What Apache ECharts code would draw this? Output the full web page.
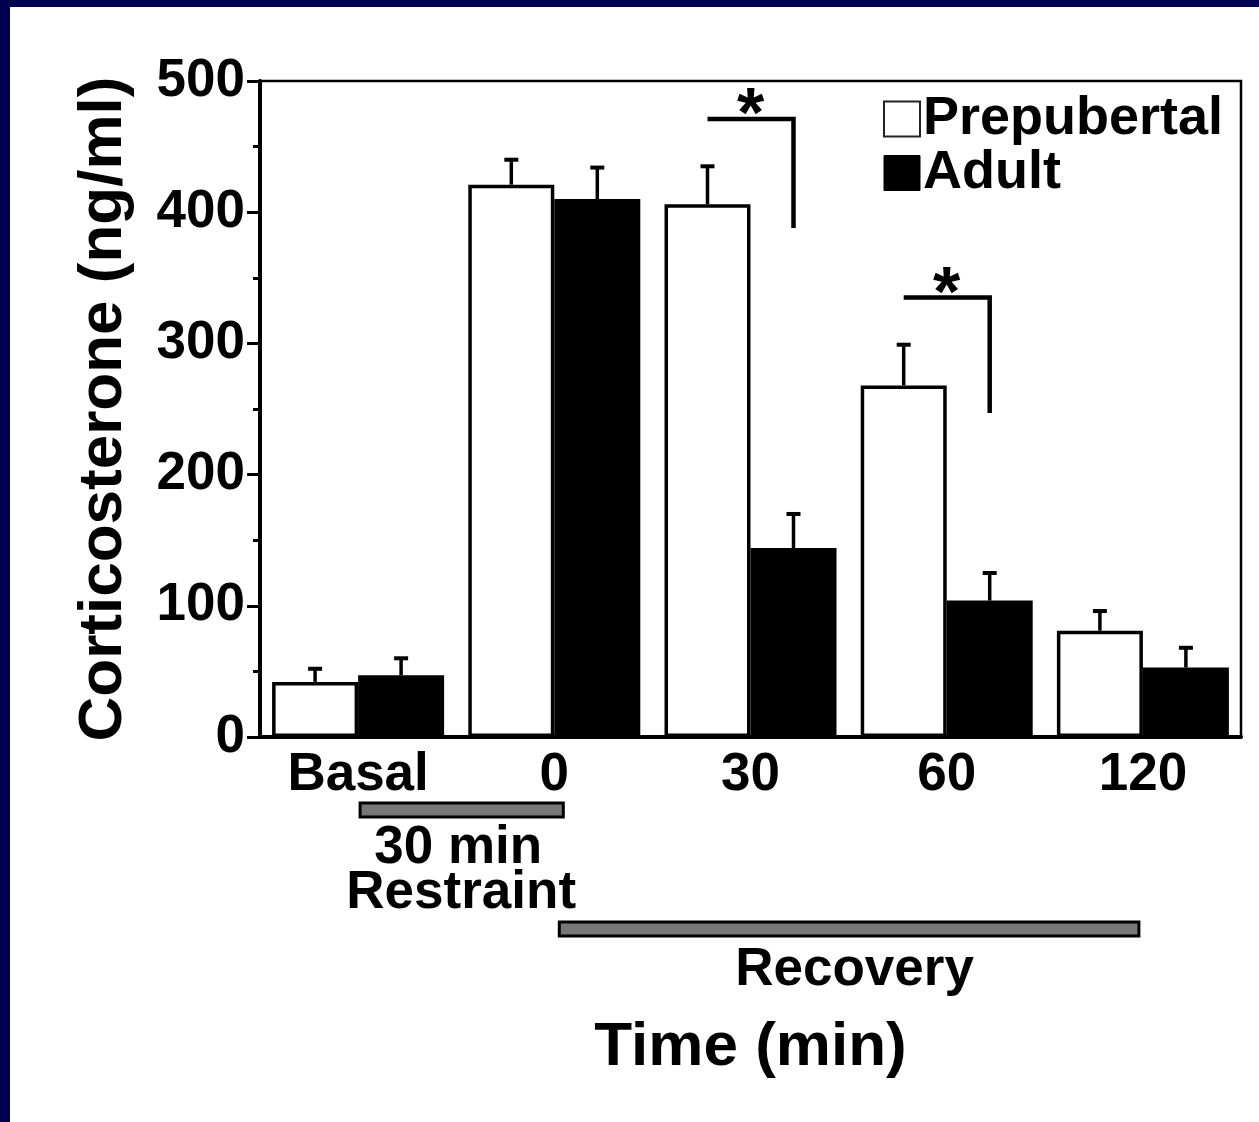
<!DOCTYPE html>
<html>
<head>
<meta charset="utf-8">
<script src="https://cdn.jsdelivr.net/npm/echarts@6/dist/echarts.min.js"></script>
<style>
  html, body { margin: 0; padding: 0; width: 1259px; height: 1122px; background: #000050; overflow: hidden; }
  #chart { position: absolute; left: 10px; top: 7px; width: 1249px; height: 1115px; background: #ffffff; }
</style>
</head>
<body>
<div id="chart"></div>
<script>
// ---- data ----
const categories = ['Basal', '0', '30', '60', '120'];
const prepubertal = [42, 421, 406, 268, 81];
const prepubertalErr = [10, 19, 29, 31, 15];
const adult = [47, 410, 144, 104, 53];
const adultErr = [13, 24, 26, 21, 15];
const yMin = 0, yMax = 500, yInterval = 100;
// significance brackets: [category index, bracket top value, bracket bottom value]
const sigBrackets = [[2, 471, 388], [3, 335, 247]];
// timeline bars under the axis: from category, to category
const restraintSpan = ['Basal', '0'];
const recoverySpan = ['0', '120'];

const FONT = '"Liberation Sans", Arial, Helvetica, sans-serif';
const BAR_W = 86;

const chart = echarts.init(document.getElementById('chart'));

const errData = [];
prepubertal.forEach((v, i) => errData.push([i, v, prepubertalErr[i], -1]));
adult.forEach((v, i) => errData.push([i, v, adultErr[i], 1]));

const option = {
  animation: false,
  backgroundColor: '#ffffff',
  grid: { left: 250, top: 74, right: 18, bottom: 385, show: true, borderColor: '#000', borderWidth: 2.5, backgroundColor: 'transparent' },
  legend: {
    left: 868, top: 80, orient: 'vertical', itemGap: 0,
    icon: 'rect', itemWidth: 36, itemHeight: 35,
    textStyle: { fontFamily: FONT, fontWeight: 'bold', fontSize: 54, color: '#000', lineHeight: 50, padding: [0, 0, 0, -2] },
    data: [
      { name: 'Prepubertal', itemStyle: { color: '#fff', borderColor: '#222', borderWidth: 2 } },
      { name: 'Adult', itemStyle: { color: '#000', borderColor: '#000', borderWidth: 1 } }
    ]
  },
  xAxis: {
    type: 'category', data: categories,
    name: 'Time (min)', nameLocation: 'middle', nameGap: 280,
    nameTextStyle: { fontFamily: FONT, fontWeight: 'bold', fontSize: 62, color: '#000' },
    axisLine: { lineStyle: { color: '#000', width: 4 } },
    axisTick: { alignWithLabel: true, length: 5, lineStyle: { color: '#000', width: 3 } },
    axisLabel: { fontFamily: FONT, fontWeight: 'bold', fontSize: 53, color: '#000', margin: 12 }
  },
  yAxis: {
    type: 'value', min: yMin, max: yMax, interval: yInterval,
    name: 'Corticosterone (ng/ml)', nameLocation: 'middle', nameGap: 125,
    nameTextStyle: { fontFamily: FONT, fontWeight: 'bold', fontSize: 62, color: '#000' },
    axisLine: { show: true, lineStyle: { color: '#000', width: 4 } },
    axisTick: { show: true, length: 13, lineStyle: { color: '#000', width: 3 } },
    minorTick: { show: true, splitNumber: 2, length: 7, lineStyle: { color: '#000', width: 3 } },
    splitLine: { show: false },
    axisLabel: { fontFamily: FONT, fontWeight: 'bold', fontSize: 53, color: '#000', margin: 15 }
  },
  series: [
    { name: 'Prepubertal', type: 'bar', data: prepubertal, barWidth: BAR_W, barGap: '0%',
      itemStyle: { color: '#fff', borderColor: '#000', borderWidth: 3.5 }, z: 2 },
    { name: 'Adult', type: 'bar', data: adult, barWidth: BAR_W, barGap: '0%',
      itemStyle: { color: '#000', borderColor: '#000', borderWidth: 4 }, z: 2 },
    { name: 'err', type: 'custom', data: errData, z: 1,
      renderItem: function (params, api) {
        const i = api.value(0), v = api.value(1), e = api.value(2), side = api.value(3);
        const b = api.coord([i, v]);
        const t = api.coord([i, v + e]);
        const x = b[0] + side * BAR_W / 2;
        return { type: 'group', children: [
          { type: 'line', shape: { x1: x, y1: b[1], x2: x, y2: t[1] }, style: { stroke: '#000', lineWidth: 3.5 } },
          { type: 'line', shape: { x1: x - 7, y1: t[1], x2: x + 7, y2: t[1] }, style: { stroke: '#000', lineWidth: 4 } }
        ]};
      }
    },
    { name: 'sig', type: 'custom', data: sigBrackets, z: 3,
      renderItem: function (params, api) {
        const i = api.value(0), top = api.value(1), bot = api.value(2);
        const t = api.coord([i, top]);
        const b = api.coord([i, bot]);
        const xl = t[0] - BAR_W / 2, xr = t[0] + BAR_W / 2;
        return { type: 'group', children: [
          { type: 'polyline', shape: { points: [[xl, t[1]], [xr, t[1]], [xr, b[1]]] }, style: { stroke: '#000', lineWidth: 4.5, fill: null } },
          { type: 'text', x: t[0], y: t[1] - 1, style: { text: '*', fontFamily: FONT, fontWeight: 'bold', fontSize: 70, fill: '#000', align: 'center', verticalAlign: 'middle' } }
        ]};
      }
    }
  ]
};
chart.setOption(option);

function drawTimeline() {
  const px = c => chart.convertToPixel({ xAxisIndex: 0 }, c);
  const r0 = px(restraintSpan[0]), r1 = px(restraintSpan[1]);
  const v0 = px(recoverySpan[0]), v1 = px(recoverySpan[1]);
  const textStyle = { fontFamily: FONT, fontWeight: 'bold', fontSize: 53, fill: '#000', align: 'center', verticalAlign: 'middle' };
  chart.setOption({
    graphic: [
      { type: 'rect', shape: { x: r0 + 2, y: 796, width: r1 - r0 + 7, height: 14 }, style: { fill: '#777', stroke: '#000', lineWidth: 3 } },
      { type: 'text', x: (r0 + r1) / 2 + 2, y: 841, style: Object.assign({ text: '30 min' }, textStyle) },
      { type: 'text', x: (r0 + r1) / 2 + 5, y: 886, style: Object.assign({ text: 'Restraint' }, textStyle) },
      { type: 'rect', shape: { x: v0 + 5, y: 915, width: v1 - v0 - 9, height: 14 }, style: { fill: '#777', stroke: '#000', lineWidth: 3 } },
      { type: 'text', x: (v0 + v1) / 2 + 6, y: 963, style: Object.assign({ text: 'Recovery' }, textStyle) }
    ]
  });
}
drawTimeline();
</script>
</body>
</html>
